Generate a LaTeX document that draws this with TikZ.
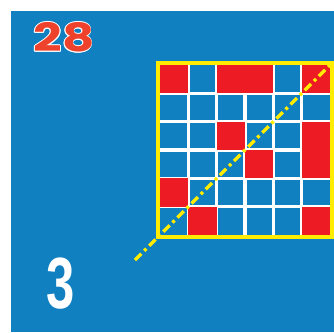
\documentclass[tikz,border=0pt]{standalone}
\usepackage{fontspec}
\usepackage{tikz}
\usetikzlibrary{calc}
\newfontfamily\numfont{Poppins}
\newfontfamily\digitfont{Liberation Sans}
\definecolor{boardblue}{RGB}{16,128,193}
\definecolor{cellred}{RGB}{237,28,36}
\definecolor{lineyellow}{RGB}{255,236,0}
\definecolor{numred}{RGB}{238,66,44}

\tikzset{
	gridline/.style={white, line width=3.4pt},
	redcell/.style={fill=cellred},
	numstyle/.style={inner sep=0pt, font=\numfont\bfseries\fontsize{39}{39}\selectfont},
}

\begin{document}
\begin{tikzpicture}[x=1pt, y=-1pt]
	\useasboundingbox (0,0) rectangle (334,332);
	% ===================== 背景 =====================
	\fill[white] (0,0) rectangle (334,332);
	\fill[boardblue] (11,11) rectangle (334,332);

	\path
	(64,37.5) coordinate (c_top)
	(61,284) coordinate (c_bottom)
	(135,260) coordinate (d_start)
	(333,62) coordinate (d_end);

	% ===================== 白色网格线 =====================
	\draw[gridline] (188.33,65) -- (188.33,235);
	\draw[gridline] (216.67,65) -- (216.67,235);
	\draw[gridline] (245,65) -- (245,235);
	\draw[gridline] (273.33,65) -- (273.33,235);
	\draw[gridline] (301.67,65) -- (301.67,235);
	\draw[gridline] (160,93.33) -- (330,93.33);
	\draw[gridline] (160,121.67) -- (330,121.67);
	\draw[gridline] (160,150) -- (330,150);
	\draw[gridline] (160,178.33) -- (330,178.33);
	\draw[gridline] (160,206.67) -- (330,206.67);

	% ===================== 红色格子 =====================
	\fill[redcell] (160,65) rectangle (188.33,93.33);
	\fill[redcell] (216.67,65) rectangle (273.33,93.33);
	\fill[redcell] (301.67,65) rectangle (330,93.33);
	\fill[redcell] (216.67,121.67) rectangle (245,150);
	\fill[redcell] (301.67,121.67) rectangle (330,178.33);
	\fill[redcell] (245,150) rectangle (273.33,178.33);
	\fill[redcell] (160,178.33) rectangle (188.33,206.67);
	\fill[redcell] (188.33,206.67) rectangle (216.67,235);
	\fill[redcell] (301.67,206.67) rectangle (330,235);

	% 黄色边框
	\draw[lineyellow, line width=4pt] (158,63) rectangle (332,237);

	% 黄色点划线
	\draw[lineyellow, line width=3.4pt, dash pattern=on 9pt off 4pt on 3pt off 4pt] (d_start) -- (d_end);

	% ===================== 数字 =====================
	\foreach \a in {0,45,...,315}
	\node[numstyle, white] (halo\a) at ($(c_top)+(\a:0.9)$) {\scalebox{1.28}[1]{28}};
	\node[numstyle, numred] (numtop) at (c_top) {\scalebox{1.28}[1]{28}};

	\draw (c_bottom) node[white, inner sep=0pt] (numbottom) {\scalebox{0.7}[1]{\digitfont\bfseries\fontsize{72.6}{72.6}\selectfont 3}};
\end{tikzpicture}
\end{document}
